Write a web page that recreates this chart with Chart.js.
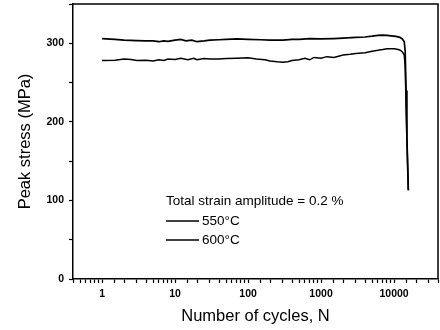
<!DOCTYPE html>
<html>
<head>
<meta charset="utf-8">
<script src="https://cdn.jsdelivr.net/npm/chart.js@4/dist/chart.umd.min.js"></script>
<style>
html,body{margin:0;padding:0;background:#fff;}
#wrap{width:440px;height:330px;position:relative;}
</style>
</head>
<body>
<div id="wrap"><canvas id="c" width="440" height="330"></canvas></div>
<script>
// Data
const cycles550 = [1,1.5,2,3,4,5,6,7,8,10,12,14,17,20,25,30,40,50,70,100,150,200,300,400,500,700,1000,1500,2000,3000,4000,5000,6000,7000,8000,9000,10000,11000,12000,13000,13800,14200,14600,15000,15400,15700];
const stress550 = [306,305,304,303.5,303,303,302,303,302.5,304,305,303,304,302,303,304,304.5,305,305.5,305,304.5,304,304,305,305,306,305.5,306,306.5,307.5,308,309,310,310.5,310,309.5,309,308.5,307.5,305.5,302,290,240,180,140,113];
const cycles600 = [1,1.5,2,2.5,3,4,5,6,7,8,10,12,15,18,20,25,30,40,50,70,100,130,170,200,250,300,350,400,500,600,700,800,1000,1200,1500,2000,2500,3000,4000,5000,6000,7000,8000,10000,11000,12000,13000,13800,14200,14800,15300,15700];
const stress600 = [278,278.5,280,279.5,278,278.5,277.5,279,278,280,279.5,281,279,281,279,280.5,280,280,280.5,281,281.5,280,279,277.5,276.5,276,276.5,278,279,281,279,282,281,283,282,285,286,287,288,290,291,292,293,293,292.5,291.5,289,285,270,200,150,113];
const seriesNames = ["550\u00B0C", "600\u00B0C"];
const legendTitle = "Total strain amplitude = 0.2 %";
const xTitle = "Number of cycles, N";
const yTitle = "Peak stress (MPa)";
const xMajorTicks = [1,10,100,1000,10000];
const yMajorTicks = [0,100,200,300];

const FONT = "'Liberation Sans', Arial, sans-serif";

const toPts = (xs, ys) => xs.map((x, i) => ({x: x, y: ys[i]}));

const boxAndLegend = {
  id: 'boxAndLegend',
  afterDraw(chart) {
    const {ctx, chartArea: a} = chart;
    ctx.save();
    ctx.strokeStyle = '#000';
    ctx.lineWidth = 1.5;
    ctx.beginPath();
    ctx.moveTo(a.left, a.top);
    ctx.lineTo(a.right, a.top);
    ctx.lineTo(a.right, a.bottom);
    ctx.stroke();

    // legend
    const lx = a.left + 93;
    const ty = a.top + 197;
    ctx.fillStyle = '#000';
    ctx.font = "13.5px " + FONT;
    ctx.textBaseline = 'middle';
    ctx.textAlign = 'left';
    ctx.fillText(legendTitle, lx, ty);
    chart.data.datasets.forEach((ds, i) => {
      const y = ty + 20 + i * 19;
      ctx.strokeStyle = ds.borderColor;
      ctx.lineWidth = ds.borderWidth;
      ctx.beginPath();
      ctx.moveTo(lx, y);
      ctx.lineTo(lx + 33, y);
      ctx.stroke();
      ctx.fillText(ds.label, lx + 36, y);
    });
    ctx.restore();
  }
};

new Chart(document.getElementById('c'), {
  type: 'line',
  data: {
    datasets: [
      {label: seriesNames[0], data: toPts(cycles550, stress550), borderColor: '#000', borderWidth: 1.7, pointRadius: 0, tension: 0, fill: false},
      {label: seriesNames[1], data: toPts(cycles600, stress600), borderColor: '#000', borderWidth: 1.5, pointRadius: 0, tension: 0, fill: false}
    ]
  },
  options: {
    responsive: false,
    animation: false,
    devicePixelRatio: 1,
    layout: {padding: {top: 4, right: 2, left: 0, bottom: 0}},
    plugins: {legend: {display: false}, tooltip: {enabled: false}},
    scales: {
      x: {
        type: 'logarithmic',
        min: 0.4, max: 40000,
        afterFit(s) { s.height = 51; s.paddingLeft = 0; s.paddingRight = 0; },
        grid: {drawOnChartArea: false, drawTicks: true, tickLength: 4, tickColor: '#000', tickWidth: 1.2},
        border: {display: true, color: '#000', width: 1.5},
        ticks: {
          autoSkip: false, maxRotation: 0, minRotation: 0, padding: 5,
          color: '#000', font: {family: FONT, size: 10.5, weight: 'bold'},
          callback(v) { return xMajorTicks.includes(v) ? String(v) : ''; }
        },
        title: {display: true, text: xTitle, color: '#000', font: {family: FONT, size: 16.5, lineHeight: 1}, padding: {top: 0, bottom: 5}}
      },
      y: {
        type: 'linear',
        min: 0, max: 350,
        afterFit(s) { s.width = 73; s.paddingTop = 0; s.paddingBottom = 0; },
        grid: {drawOnChartArea: false, drawTicks: true, tickLength: 4, tickColor: '#000', tickWidth: 1.2},
        border: {display: true, color: '#000', width: 1.5},
        ticks: {
          stepSize: 50, padding: 5,
          color: '#000', font: {family: FONT, size: 10.5, weight: 'bold'},
          callback(v) { return yMajorTicks.includes(v) ? String(v) : ''; }
        },
        title: {display: true, text: yTitle, color: '#000', font: {family: FONT, size: 16.5, lineHeight: 1}, padding: {top: 17, bottom: 0}}
      }
    }
  },
  plugins: [boxAndLegend]
});
</script>
</body>
</html>
